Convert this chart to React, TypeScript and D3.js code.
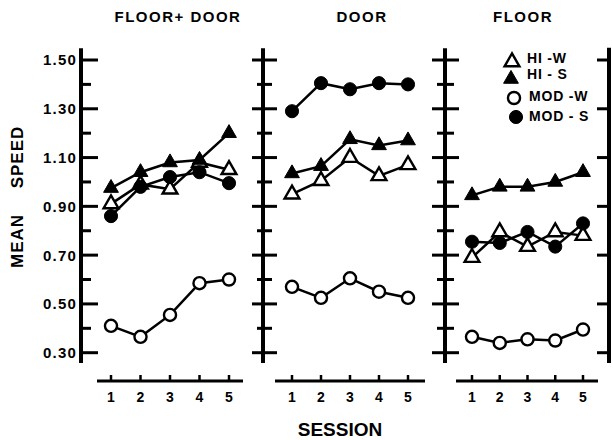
import React, { useEffect, useRef } from 'react';
import * as d3 from 'd3';

// Data
const sessions = [1, 2, 3, 4, 5];
const panelTitles = ['FLOOR+ DOOR', 'DOOR', 'FLOOR'];
const seriesNames = ['HI -W', 'HI - S', 'MOD -W', 'MOD - S'];

// one row per panel: FLOOR+ DOOR, DOOR, FLOOR
const hiW = [
    [0.91, 0.99, 0.97, 1.08, 1.05],
    [0.95, 1.005, 1.1, 1.025, 1.07],
    [0.69, 0.795, 0.735, 0.795, 0.78]
];
const hiS = [
    [0.975, 1.04, 1.08, 1.09, 1.2],
    [1.035, 1.065, 1.175, 1.15, 1.17],
    [0.945, 0.98, 0.98, 1.0, 1.04]
];
const modW = [
    [0.41, 0.365, 0.455, 0.585, 0.6],
    [0.57, 0.525, 0.605, 0.55, 0.525],
    [0.365, 0.34, 0.355, 0.35, 0.395]
];
const modS = [
    [0.86, 0.98, 1.02, 1.04, 0.995],
    [1.29, 1.405, 1.38, 1.405, 1.4],
    [0.755, 0.75, 0.795, 0.735, 0.83]
];

const yMajor = [0.3, 0.5, 0.7, 0.9, 1.1, 1.3, 1.5];
const yMinor = [0.4, 0.6, 0.8, 1.0, 1.2, 1.4];

function App() {
    const svgRef = useRef(null);

    useEffect(() => {
        const svg = d3.select(svgRef.current);
        svg.selectAll('*').remove();

        const font = "'Liberation Sans', Arial, Helvetica, sans-serif";
        const y = d3.scaleLinear().domain([0.3, 1.5]).range([352.7, 60]);

        // panel layout
        const panels = [
            { titleX: 178, range: [111, 229], xLine: [97, 243], axisX: 81, major: [0, 17], minor: [0, 10] },
            { titleX: 362, range: [292, 408], xLine: [275, 425], axisX: 263, major: [-11, 14], minor: [-6, 9] },
            { titleX: 523, range: [472, 583], xLine: [456, 598], axisX: 445, major: [-13, 14], minor: [-8, 9] }
        ];

        const styles = [
            { shape: d3.symbolTriangle, size: 95, filled: false },
            { shape: d3.symbolTriangle, size: 95, filled: true },
            { shape: d3.symbolCircle, size: 115, filled: false },
            { shape: d3.symbolCircle, size: 135, filled: true }
        ];

        const fmt = d3.format('.2f');

        panels.forEach((p, i) => {
            const g = svg.append('g');
            const x = d3.scalePoint().domain(sessions).range(p.range);

            // title
            g.append('text')
                .attr('x', p.titleX)
                .attr('y', 22)
                .attr('text-anchor', 'middle')
                .attr('font-family', font)
                .attr('font-weight', 'bold')
                .attr('font-size', 15)
                .attr('letter-spacing', 1.5)
                .text(panelTitles[i]);

            // y axis
            g.append('line')
                .attr('x1', p.axisX).attr('x2', p.axisX)
                .attr('y1', y(1.548)).attr('y2', y(0.258))
                .attr('stroke', '#000').attr('stroke-width', 4);
            yMajor.forEach(t => {
                g.append('line')
                    .attr('x1', p.axisX + p.major[0]).attr('x2', p.axisX + p.major[1])
                    .attr('y1', y(t)).attr('y2', y(t))
                    .attr('stroke', '#000').attr('stroke-width', 3);
            });
            yMinor.forEach(t => {
                g.append('line')
                    .attr('x1', p.axisX + p.minor[0]).attr('x2', p.axisX + p.minor[1])
                    .attr('y1', y(t)).attr('y2', y(t))
                    .attr('stroke', '#000').attr('stroke-width', 3);
            });
            if (i === 0) {
                yMajor.forEach(t => {
                    g.append('text')
                        .attr('x', p.axisX - 4)
                        .attr('y', y(t))
                        .attr('dy', '0.36em')
                        .attr('text-anchor', 'end')
                        .attr('font-family', font)
                        .attr('font-weight', 'bold')
                        .attr('font-size', 15)
                        .attr('letter-spacing', 1.2)
                        .text(fmt(t));
                });
            }

            // x axis
            g.append('line')
                .attr('x1', p.xLine[0]).attr('x2', p.xLine[1])
                .attr('y1', 381).attr('y2', 381)
                .attr('stroke', '#000').attr('stroke-width', 3);
            sessions.forEach(s => {
                g.append('line')
                    .attr('x1', x(s)).attr('x2', x(s))
                    .attr('y1', 381).attr('y2', 375)
                    .attr('stroke', '#000').attr('stroke-width', 2.5);
                g.append('text')
                    .attr('x', x(s))
                    .attr('y', 402)
                    .attr('text-anchor', 'middle')
                    .attr('font-family', font)
                    .attr('font-weight', 'bold')
                    .attr('font-size', 14)
                    .text(s);
            });

            // series
            const seriesVals = [hiW[i], hiS[i], modW[i], modS[i]];
            const line = d3.line()
                .x((d, k) => x(sessions[k]))
                .y(d => y(d));
            seriesVals.forEach(vals => {
                g.append('path')
                    .datum(vals)
                    .attr('fill', 'none')
                    .attr('stroke', '#000')
                    .attr('stroke-width', 2.5)
                    .attr('d', line);
            });
            [2, 0, 3, 1].forEach(si => {
                const st = styles[si];
                const sym = d3.symbol().type(st.shape).size(st.size);
                g.selectAll(null)
                    .data(seriesVals[si])
                    .enter()
                    .append('path')
                    .attr('transform', (d, k) => `translate(${x(sessions[k])},${y(d)})`)
                    .attr('d', sym)
                    .attr('fill', st.filled ? '#000' : '#fff')
                    .attr('stroke', '#000')
                    .attr('stroke-width', st.filled ? 1 : 2.4);
            });
        });

        // right axis of the last panel
        const rx = 609;
        svg.append('line')
            .attr('x1', rx).attr('x2', rx)
            .attr('y1', y(1.55)).attr('y2', y(0.258))
            .attr('stroke', '#000').attr('stroke-width', 4);
        yMajor.forEach(t => {
            svg.append('line')
                .attr('x1', rx - 12).attr('x2', rx)
                .attr('y1', y(t)).attr('y2', y(t))
                .attr('stroke', '#000').attr('stroke-width', 3);
        });

        // legend
        const legendRows = [
            { mx: 512, my: 62, ty: 58 },
            { mx: 511, my: 79, ty: 74 },
            { mx: 514, my: 98, ty: 96 },
            { mx: 516, my: 117, ty: 116 }
        ];
        legendRows.forEach((r, k) => {
            const st = styles[k];
            svg.append('path')
                .attr('transform', `translate(${r.mx},${r.my})`)
                .attr('d', d3.symbol().type(st.shape).size(st.size)())
                .attr('fill', st.filled ? '#000' : '#fff')
                .attr('stroke', '#000')
                .attr('stroke-width', st.filled ? 1 : 2.4);
            svg.append('text')
                .attr('x', k < 2 ? 527 : 529)
                .attr('y', r.ty)
                .attr('dy', '0.36em')
                .attr('font-family', font)
                .attr('font-weight', 'bold')
                .attr('font-size', 14)
                .attr('letter-spacing', 0.8)
                .text(seriesNames[k]);
        });

        // axis titles
        svg.append('text')
            .attr('x', 340)
            .attr('y', 436)
            .attr('text-anchor', 'middle')
            .attr('font-family', font)
            .attr('font-weight', 'bold')
            .attr('font-size', 19)
            .text('SESSION');

        [['MEAN', 241], ['SPEED', 157]].forEach(([word, cy]) => {
            svg.append('text')
                .attr('transform', `translate(23,${cy}) rotate(-90)`)
                .attr('text-anchor', 'middle')
                .attr('font-family', font)
                .attr('font-weight', 'bold')
                .attr('font-size', 17)
                .attr('letter-spacing', 1)
                .text(word);
        });
    }, []);

    return (
        <svg
            ref={svgRef}
            width={613}
            height={440}
            style={{ position: 'absolute', left: 0, top: 0, background: '#fff' }}
        ></svg>
    );
}

export default App;
